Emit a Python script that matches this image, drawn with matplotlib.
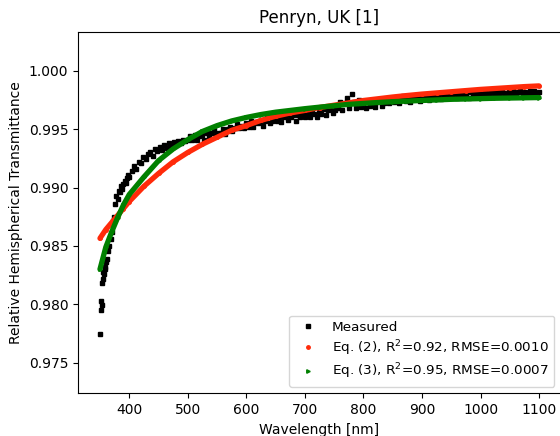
import matplotlib
matplotlib.use('Agg')
import matplotlib.pyplot as plt

# measured relative hemispherical transmittance
wl_meas = ([350, 351, 352, 353, 354, 355, 356, 357, 358, 359]
           + list(range(360, 401, 2))
           + list(range(404, 501, 4))
           + list(range(504, 1101, 4)))
t_meas = [0.9775, 0.9795, 0.9803, 0.9799, 0.9818, 0.9822, 0.9828, 0.9826, 0.9832, 0.9830,
          # 360-400
          0.9836, 0.9839, 0.9846, 0.9850, 0.9856, 0.9862, 0.9871, 0.9875, 0.9886, 0.9893,
          0.9890, 0.9897, 0.9896, 0.9901, 0.9899, 0.9903, 0.9906, 0.9904, 0.9908, 0.9911, 0.9909,
          # 404-500
          0.9914, 0.9918, 0.9916, 0.9922, 0.9921, 0.9926, 0.9924, 0.9929, 0.9930, 0.9927,
          0.9933, 0.9931, 0.9935, 0.9932, 0.9936, 0.9934, 0.9938, 0.9936, 0.9939, 0.9937,
          0.9940, 0.9938, 0.9941, 0.9940, 0.9941,
          # 504-548
          0.9944, 0.9941, 0.9945, 0.9941, 0.9944, 0.9945, 0.9941, 0.9947, 0.9944, 0.9947,
          0.9949, 0.9945,
          # 552-600
          0.9947, 0.9947, 0.9950, 0.9946, 0.9950, 0.9952, 0.9948, 0.9951, 0.9954, 0.9951,
          0.9953, 0.9951, 0.9955,
          # 604-648
          0.9952, 0.9957, 0.9952, 0.9956, 0.9955, 0.9957, 0.9953, 0.9957, 0.9960, 0.9955,
          0.9957, 0.9960,
          # 652-700
          0.9957, 0.9960, 0.9956, 0.9960, 0.9962, 0.9958, 0.9960, 0.9962, 0.9957, 0.9962,
          0.9960, 0.9964, 0.9960,
          # 704-748
          0.9963, 0.9960, 0.9964, 0.9963, 0.9960, 0.9965, 0.9963, 0.9967, 0.9962, 0.9966,
          0.9967, 0.9964,
          # 752-800
          0.9966, 0.9968, 0.9973, 0.9966, 0.9972, 0.9977, 0.9968, 0.9980, 0.9973, 0.9968,
          0.9975, 0.9969, 0.9972,
          # 804-848
          0.9968, 0.9973, 0.9970, 0.9973, 0.9969, 0.9973, 0.9975, 0.9970, 0.9972, 0.9975,
          0.9972, 0.9975,
          # 852-900
          0.9973, 0.9976, 0.9972, 0.9975, 0.9978, 0.9974, 0.9976, 0.9973, 0.9978, 0.9976,
          0.9978, 0.9974, 0.9978,
          # 904-948
          0.9976, 0.9979, 0.9975, 0.9978, 0.9979, 0.9976, 0.9979, 0.9976, 0.9980, 0.9978,
          0.9977, 0.9980,
          # 952-1000
          0.9978, 0.9981, 0.9977, 0.9980, 0.9981, 0.9978, 0.9980, 0.9977, 0.9982, 0.9980,
          0.9981, 0.9978, 0.9982,
          # 1004-1048
          0.9979, 0.9982, 0.9978, 0.9981, 0.9982, 0.9980, 0.9982, 0.9979, 0.9983, 0.9981,
          0.9980, 0.9983,
          # 1052-1100
          0.9980, 0.9983, 0.9979, 0.9982, 0.9983, 0.9980, 0.9982, 0.9979, 0.9983, 0.9981,
          0.9983, 0.9980, 0.9982]

# fitted models
wl_fit = [350, 360, 370, 380, 390, 400, 425, 450, 475, 500, 525, 550, 575, 600,
          625, 650, 675, 700, 725, 750, 775, 800, 825, 850, 875, 900,
          925, 950, 975, 1000, 1025, 1050, 1075, 1100]
t_eq2 = [0.98565, 0.9864, 0.9870, 0.9876, 0.9882, 0.9888, 0.9901, 0.9912, 0.9922, 0.9930,
         0.9937, 0.9943, 0.9949, 0.9953, 0.99575, 0.9961, 0.99638, 0.9966, 0.99685, 0.99705,
         0.99725, 0.99745, 0.9976, 0.99775, 0.99788, 0.9980, 0.9981, 0.9982, 0.9983, 0.9984,
         0.99848, 0.99856, 0.99864, 0.9987]
t_eq3 = [0.9830, 0.9849, 0.9862, 0.9874, 0.9885, 0.9894, 0.9909, 0.9923, 0.9933, 0.9941,
         0.9948, 0.9953, 0.9957, 0.9960, 0.99625, 0.99645, 0.9966, 0.99675, 0.99688, 0.9970,
         0.99712, 0.9972, 0.99728, 0.99735, 0.9974, 0.99745, 0.9975, 0.99755, 0.99758, 0.99761,
         0.99764, 0.99766, 0.99768, 0.9977]

lab_meas = 'Measured'
lab_eq2 = 'Eq. (2), R$^2$=0.92, RMSE=0.0010'
lab_eq3 = 'Eq. (3), R$^2$=0.95, RMSE=0.0007'

red = '#ff2a0a'
green = '#008000'

fig = plt.figure(figsize=(5.6, 4.36), dpi=100)
ax = fig.add_axes([0.1393, 0.0979, 0.8625, 0.8294])

ax.plot(wl_meas, t_meas, 's', color='k', ms=3, label=lab_meas)

# thick curves, markers only used for the legend
ax.plot(wl_fit, t_eq2, '-', color=red, lw=3.8, solid_capstyle='round')
ax.plot(wl_fit, t_eq2, 'o', color=red, ms=2.5, label=lab_eq2)
ax.plot(wl_fit, t_eq3, '-', color=green, lw=3.8, solid_capstyle='round')
ax.plot(wl_fit, t_eq3, '>', color=green, ms=2.5, label=lab_eq3)

ax.set_xlim(312.5, 1137.5)
ax.set_ylim(0.97238, 1.00334)
ax.set_xticks([400, 500, 600, 700, 800, 900, 1000, 1100])
ax.set_yticks([0.975, 0.980, 0.985, 0.990, 0.995, 1.000])
ax.set_yticklabels(['0.975', '0.980', '0.985', '0.990', '0.995', '1.000'])

ax.set_title('Penryn, UK [1]')
ax.set_xlabel('Wavelength [nm]')
ax.set_ylabel('Relative Hemispherical Transmittance')
ax.legend(loc='lower right', fontsize=9.7, labelspacing=0.3)

fig.savefig('out.png', dpi=100)
